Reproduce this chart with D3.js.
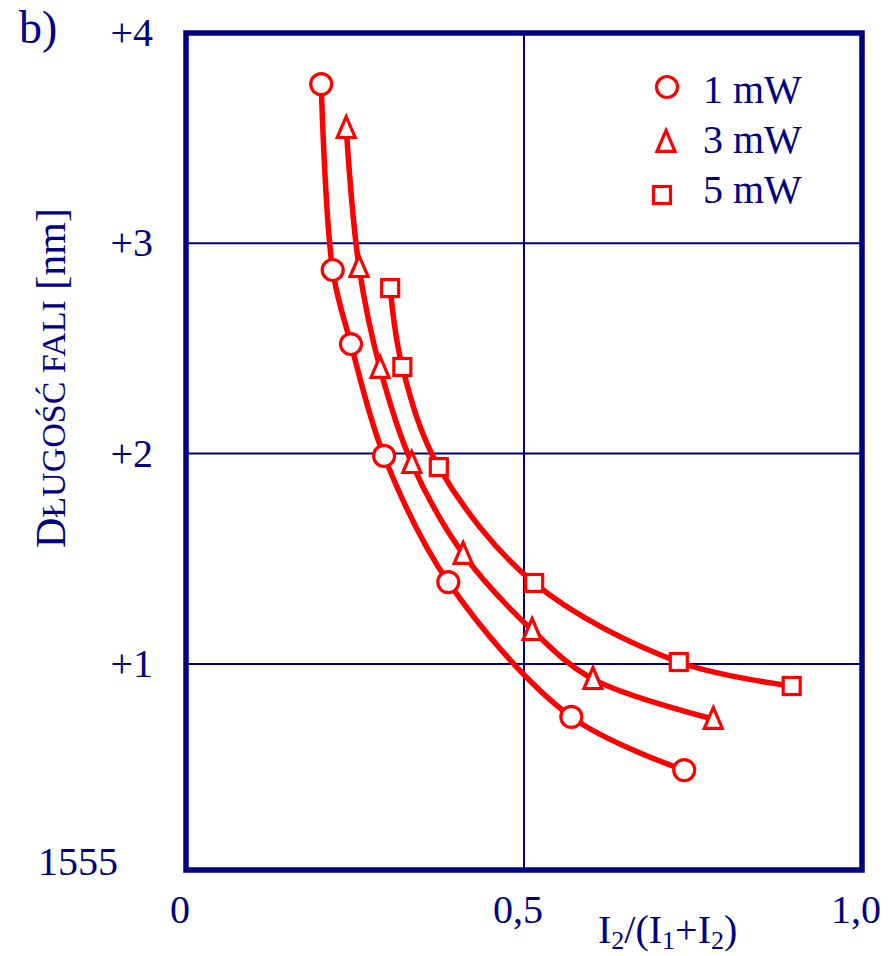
<!DOCTYPE html>
<html>
<head>
<meta charset="utf-8">
<script src="https://cdn.jsdelivr.net/npm/d3@7"></script>
<style>
  html, body { margin: 0; padding: 0; background: #fff; }
  svg { display: block; }
  text { font-family: "Liberation Serif", "Times New Roman", serif; fill: #000080; }
</style>
</head>
<body>
<svg id="chart" width="888" height="956"></svg>
<script>
// ---- data ----
const series1mW_x = [0.200, 0.217, 0.244, 0.293, 0.388, 0.570, 0.737];
const series1mW_y = [3.757, 2.873, 2.521, 1.989, 1.389, 0.748, 0.495];
const series3mW_x = [0.237, 0.256, 0.287, 0.334, 0.410, 0.512, 0.602, 0.780];
const series3mW_y = [3.548, 2.887, 2.407, 1.955, 1.523, 1.161, 0.928, 0.738];
const series5mW_x = [0.302, 0.320, 0.374, 0.515, 0.729, 0.896];
const series5mW_y = [2.787, 2.412, 1.936, 1.385, 1.009, 0.895];
const seriesNames = ["1 mW", "3 mW", "5 mW"];
const seriesSymbols = ["circle", "triangle", "square"];
const xTickValues = [0, 0.5, 1.0];
const xTickLabels = ["0", "0,5", "1,0"];
const yTickValues = [4, 3, 2, 1];
const yTickLabels = ["+4", "+3", "+2", "+1"];
const yBaseLabel = "1555";
const panelLabel = "b)";

(function () {
const navy = "#000080";
const red = "#ff0000";

const svg = d3.select("#chart");
const pLeft = 186, pRight = 862, pTop = 33, pBottom = 870;
const x = d3.scaleLinear().domain([0, 1]).range([pLeft, pRight]);
const y = d3.scaleLinear().domain([0.02, 4]).range([pBottom, pTop]);

// grid lines
svg.append("g").selectAll("line").data([1, 2, 3]).join("line")
  .attr("x1", pLeft).attr("x2", pRight)
  .attr("y1", d => y(d)).attr("y2", d => y(d))
  .attr("stroke", navy).attr("stroke-width", 2);
svg.append("line")
  .attr("x1", x(0.5)).attr("x2", x(0.5))
  .attr("y1", pTop).attr("y2", pBottom)
  .attr("stroke", navy).attr("stroke-width", 2);

// frame
svg.append("rect")
  .attr("x", pLeft).attr("y", pTop)
  .attr("width", pRight - pLeft).attr("height", pBottom - pTop)
  .attr("fill", "none").attr("stroke", navy).attr("stroke-width", 5.5);

// x tick labels
svg.append("g").selectAll("text").data(xTickValues).join("text")
  .attr("x", d => x(d) - 6).attr("y", 923)
  .attr("text-anchor", "middle").attr("font-size", 40)
  .text((d, i) => xTickLabels[i]);

// y tick labels
svg.append("g").selectAll("text").data(yTickValues).join("text")
  .attr("x", 153).attr("y", d => y(d) + 13)
  .attr("text-anchor", "end").attr("font-size", 40)
  .text((d, i) => yTickLabels[i]);
svg.append("text")
  .attr("x", 118).attr("y", 875)
  .attr("text-anchor", "end").attr("font-size", 40)
  .text(yBaseLabel);

// panel label
svg.append("text").attr("x", 19).attr("y", 43).attr("font-size", 46).text(panelLabel);

// x axis title
const xt = svg.append("text").attr("x", 598).attr("y", 943).attr("font-size", 40);
xt.append("tspan").text("I");
xt.append("tspan").attr("font-size", 26).attr("dy", 6).text("2");
xt.append("tspan").attr("dy", -6).text("/(I");
xt.append("tspan").attr("font-size", 26).attr("dy", 6).text("1");
xt.append("tspan").attr("dy", -6).text("+I");
xt.append("tspan").attr("font-size", 26).attr("dy", 6).text("2");
xt.append("tspan").attr("dy", -6).text(")");

// y axis title (small caps)
const yt = svg.append("text")
  .attr("transform", "translate(65,378) rotate(-90)")
  .attr("text-anchor", "middle");
yt.append("tspan").attr("font-size", 42).text("D");
yt.append("tspan").attr("font-size", 34).text("ŁUGOŚĆ FALI");
yt.append("tspan").attr("font-size", 42).text(" [nm]");

// series
const seriesData = [
  d3.zip(series1mW_x, series1mW_y),
  d3.zip(series3mW_x, series3mW_y),
  d3.zip(series5mW_x, series5mW_y)
];
const line = d3.line().x(d => x(d[0])).y(d => y(d[1])).curve(d3.curveCatmullRom.alpha(0.5));

function drawSymbol(g, type, cx, cy) {
  if (type === "circle") {
    g.append("circle").attr("cx", cx).attr("cy", cy).attr("r", 10.5)
      .attr("fill", "#fff").attr("stroke", red).attr("stroke-width", 3.2);
  } else if (type === "triangle") {
    const h = 21, w = 18;
    g.append("path")
      .attr("d", `M${cx},${cy - h * 0.55}L${cx + w / 2},${cy + h * 0.45}L${cx - w / 2},${cy + h * 0.45}Z`)
      .attr("fill", "#fff").attr("stroke", red).attr("stroke-width", 3.2);
  } else {
    const s = 17;
    g.append("rect").attr("x", cx - s / 2).attr("y", cy - s / 2)
      .attr("width", s).attr("height", s)
      .attr("fill", "#fff").attr("stroke", red).attr("stroke-width", 3.2);
  }
}

seriesData.forEach((pts) => {
  svg.append("path").datum(pts)
    .attr("d", line).attr("fill", "none")
    .attr("stroke", red).attr("stroke-width", 5.5);
});
seriesData.forEach((pts, i) => {
  const g = svg.append("g");
  pts.forEach(p => drawSymbol(g, seriesSymbols[i], x(p[0]), y(p[1])));
});

// legend
const legendSY = [87, 142, 195];
const legendSX = [667, 666, 662];
const legendBase = [103, 153, 203];
seriesNames.forEach((name, i) => {
  const g = svg.append("g");
  drawSymbol(g, seriesSymbols[i], legendSX[i], legendSY[i]);
  svg.append("text").attr("x", 703).attr("y", legendBase[i]).attr("font-size", 40).text(name);
});
})();
</script>
</body>
</html>
